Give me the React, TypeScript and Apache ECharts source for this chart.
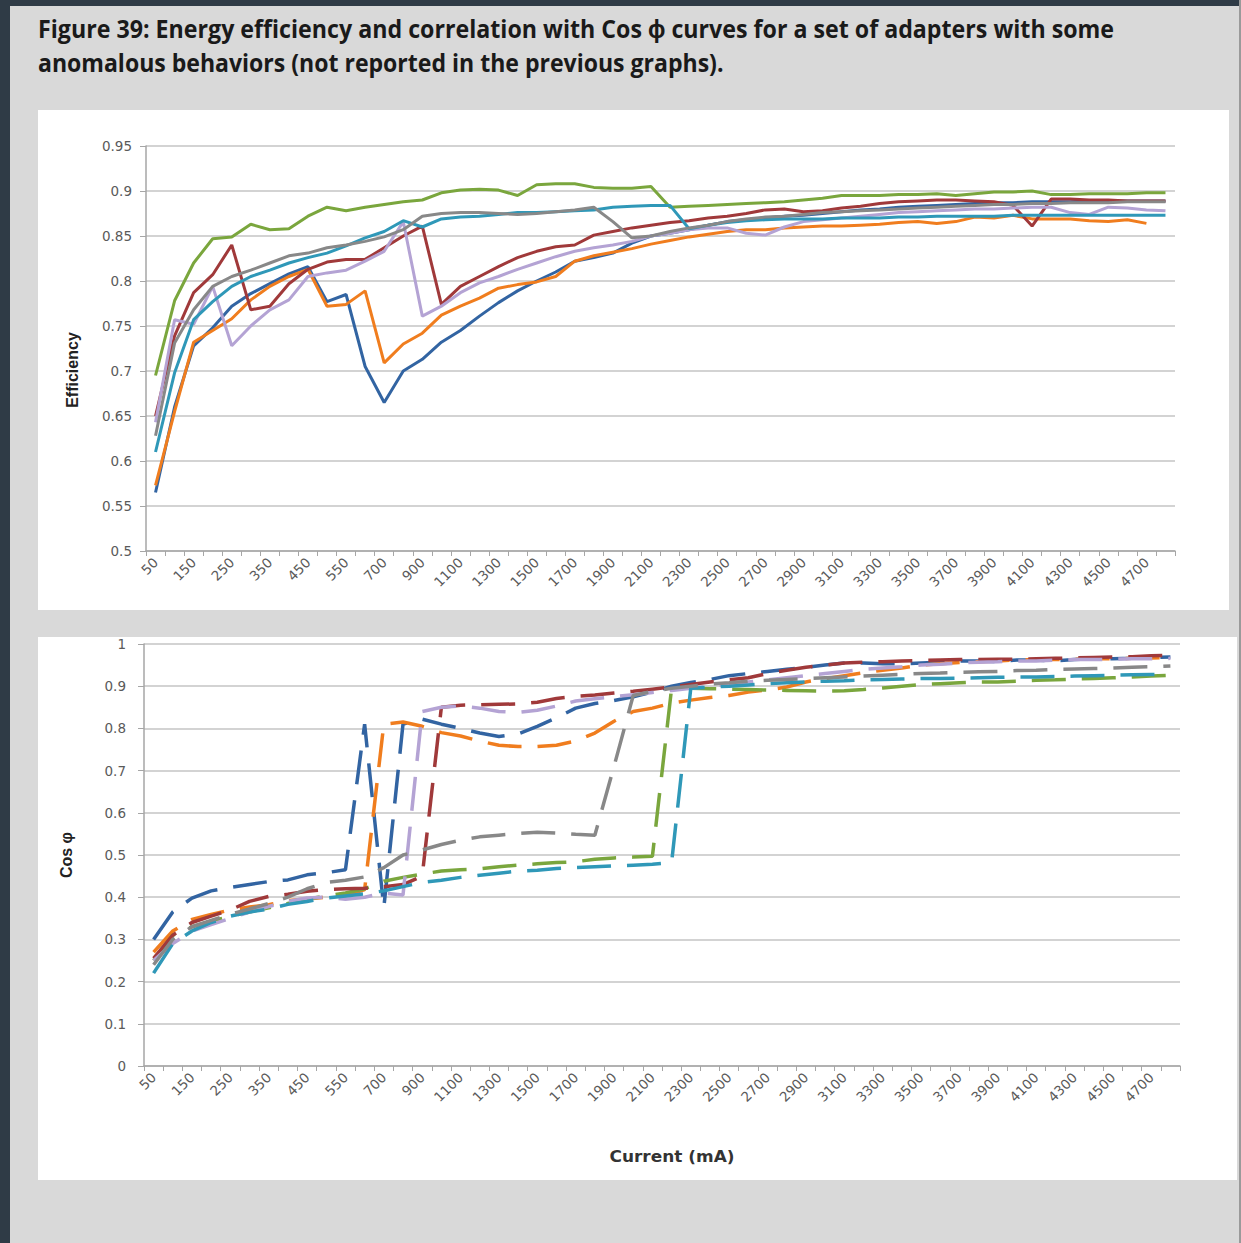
import React, { useEffect, useRef } from "react";
import * as echarts from "echarts";

const currents = [
  "50", "100", "150", "200", "250", "300", "350", "400", "450", "500", "550", "600",
  "700", "800", "900", "1000", "1100", "1200", "1300", "1400", "1500", "1600", "1700", "1800",
  "1900", "2000", "2100", "2200", "2300", "2400", "2500", "2600", "2700", "2800", "2900", "3000",
  "3100", "3200", "3300", "3400", "3500", "3600", "3700", "3800", "3900", "4000", "4100", "4200",
  "4300", "4400", "4500", "4600", "4700", "4800",
];

// Efficiency curves (top chart)
const effBlue = [
  0.565, 0.66, 0.728, 0.748, 0.772, 0.786, 0.797, 0.808, 0.816, 0.777, 0.785, 0.705,
  0.665, 0.7, 0.713, 0.732, 0.745, 0.761, 0.776, 0.789, 0.8, 0.81, 0.822, 0.826,
  0.831, 0.842, 0.85, 0.853, 0.857, 0.862, 0.866, 0.868, 0.87, 0.872, 0.873, 0.875,
  0.877, 0.879, 0.88, 0.882, 0.883, 0.884, 0.885, 0.886, 0.887, 0.887, 0.888, 0.888,
  0.888, 0.889, 0.889, 0.889, 0.889, 0.889,
];
const effOrange = [
  0.573, 0.655, 0.732, 0.745, 0.758, 0.779, 0.794, 0.805, 0.813, 0.772, 0.774, 0.789,
  0.709, 0.73, 0.742, 0.762, 0.772, 0.781, 0.792, 0.796, 0.799, 0.805, 0.822, 0.828,
  0.832, 0.836, 0.841, 0.845, 0.849, 0.852, 0.855, 0.857, 0.857, 0.859, 0.86, 0.861,
  0.861, 0.862, 0.863, 0.865, 0.866, 0.864, 0.866, 0.871, 0.87, 0.873, 0.869, 0.869,
  0.869, 0.867, 0.866, 0.868, 0.864, null,
];
const effGreen = [
  0.695, 0.778, 0.82, 0.847, 0.849, 0.863, 0.857, 0.858, 0.872, 0.882, 0.878, 0.882,
  0.885, 0.888, 0.89, 0.898, 0.901, 0.902, 0.901, 0.895, 0.907, 0.908, 0.908, 0.904,
  0.903, 0.903, 0.905, 0.882, 0.883, 0.884, 0.885, 0.886, 0.887, 0.888, 0.89, 0.892,
  0.895, 0.895, 0.895, 0.896, 0.896, 0.897, 0.895, 0.897, 0.899, 0.899, 0.9, 0.896,
  0.896, 0.897, 0.897, 0.897, 0.898, 0.898,
];
const effRed = [
  0.65, 0.739, 0.787, 0.807, 0.84, 0.768, 0.772, 0.797, 0.813, 0.821, 0.824, 0.824,
  0.837, 0.85, 0.861, 0.774, 0.794, 0.805, 0.816, 0.826, 0.833, 0.838, 0.84, 0.851,
  0.855, 0.859, 0.862, 0.865, 0.867, 0.87, 0.872, 0.875, 0.879, 0.88, 0.877, 0.878,
  0.881, 0.883, 0.886, 0.888, 0.889, 0.89, 0.89, 0.889, 0.888, 0.884, 0.861, 0.891,
  0.891, 0.89, 0.89, 0.889, 0.889, 0.889,
];
const effPurple = [
  0.643, 0.757, 0.752, 0.794, 0.728, 0.75, 0.768, 0.779, 0.805, 0.809, 0.812, 0.822,
  0.833, 0.866, 0.761, 0.772, 0.787, 0.798, 0.805, 0.813, 0.82, 0.827, 0.833, 0.837,
  0.84, 0.844, 0.85, 0.853, 0.857, 0.859, 0.859, 0.853, 0.851, 0.86, 0.866, 0.868,
  0.87, 0.872, 0.874, 0.876, 0.877, 0.878, 0.879, 0.88, 0.88, 0.881, 0.882, 0.882,
  0.876, 0.874, 0.882, 0.881, 0.879, 0.878,
];
const effTeal = [
  0.61, 0.698, 0.757, 0.777, 0.794, 0.805, 0.812, 0.82, 0.826, 0.831, 0.839, 0.848,
  0.855, 0.867, 0.86, 0.869, 0.871, 0.872, 0.874, 0.876, 0.876, 0.877, 0.878, 0.879,
  0.882, 0.883, 0.884, 0.884, 0.858, 0.862, 0.865, 0.867, 0.868, 0.869, 0.869, 0.869,
  0.87, 0.87, 0.87, 0.871, 0.871, 0.872, 0.872, 0.872, 0.872, 0.873, 0.873, 0.873,
  0.873, 0.873, 0.873, 0.873, 0.873, 0.873,
];
const effGrey = [
  0.628, 0.731, 0.768, 0.794, 0.805, 0.812, 0.82, 0.828, 0.831, 0.837, 0.84, 0.844,
  0.849, 0.857, 0.872, 0.875, 0.876, 0.876, 0.875, 0.874, 0.875, 0.877, 0.879, 0.882,
  0.866, 0.848, 0.85, 0.855, 0.859, 0.862, 0.866, 0.869, 0.871, 0.872, 0.874, 0.876,
  0.877, 0.878, 0.879, 0.88, 0.881, 0.882, 0.883, 0.884, 0.885, 0.885, 0.886, 0.886,
  0.887, 0.887, 0.887, 0.888, 0.888, 0.888,
];

// Cos phi curves (bottom chart)
const cosBlue = [
  0.3, 0.365, 0.398, 0.415, 0.423, 0.43, 0.437, 0.441, 0.453, 0.458, 0.465, 0.81,
  0.375, 0.81, 0.822, 0.81, 0.8, 0.789, 0.781, 0.787, 0.805, 0.825, 0.848, 0.859,
  0.866, 0.875, 0.886, 0.9, 0.909, 0.916, 0.925, 0.93, 0.935, 0.94, 0.945, 0.95,
  0.955, 0.955, 0.953, 0.953, 0.955, 0.957, 0.96, 0.96, 0.958, 0.962, 0.962, 0.96,
  0.963, 0.965, 0.965, 0.966, 0.968, 0.969,
];
const cosOrange = [
  0.27, 0.32, 0.347, 0.359, 0.37, 0.377, 0.382, 0.392, 0.396, 0.4, 0.403, 0.418,
  0.81, 0.815, 0.805, 0.79, 0.782, 0.77, 0.76, 0.757, 0.757, 0.76, 0.77, 0.789,
  0.817, 0.84, 0.848, 0.86, 0.867, 0.873, 0.878, 0.886, 0.891, 0.898, 0.91, 0.918,
  0.925, 0.932, 0.938, 0.943, 0.95, 0.953, 0.956, 0.958, 0.96, 0.962, 0.963, 0.963,
  0.964, 0.965, 0.965, 0.966, 0.967, 0.968,
];
const cosGreen = [
  0.25, 0.31, 0.33, 0.343, 0.355, 0.365, 0.375, 0.385, 0.395, 0.403, 0.41, 0.42,
  0.438, 0.447, 0.455, 0.462, 0.465, 0.467, 0.472, 0.476, 0.479, 0.482, 0.484, 0.49,
  0.493, 0.495, 0.497, 0.895, 0.895, 0.894, 0.893, 0.892, 0.891, 0.89, 0.889, 0.888,
  0.889, 0.892, 0.896, 0.9, 0.904, 0.906, 0.908, 0.91, 0.91, 0.912, 0.914, 0.915,
  0.917, 0.918, 0.92, 0.922, 0.924, 0.926,
];
const cosRed = [
  0.255, 0.31, 0.34, 0.355, 0.37, 0.39, 0.402, 0.407, 0.414, 0.418, 0.42, 0.421,
  0.425, 0.43, 0.45, 0.85, 0.855, 0.856, 0.857, 0.858, 0.862, 0.871, 0.876, 0.879,
  0.884, 0.888, 0.893, 0.898, 0.904, 0.91, 0.915, 0.92, 0.93, 0.938, 0.945, 0.95,
  0.955, 0.957, 0.958, 0.96, 0.961, 0.962, 0.963, 0.963, 0.964, 0.964, 0.965, 0.966,
  0.967, 0.968, 0.969, 0.97, 0.972, 0.973,
];
const cosPurple = [
  0.25, 0.29, 0.32, 0.335, 0.35, 0.365, 0.378, 0.39, 0.398, 0.4, 0.395, 0.4,
  0.41, 0.405, 0.84, 0.85, 0.853, 0.848, 0.84, 0.838, 0.843, 0.853, 0.865, 0.87,
  0.875, 0.88, 0.885, 0.89, 0.895, 0.9, 0.905, 0.91, 0.915, 0.92, 0.925, 0.93,
  0.935, 0.94, 0.943, 0.946, 0.95, 0.952, 0.955, 0.957, 0.958, 0.96, 0.96, 0.962,
  0.963, 0.963, 0.964, 0.965, 0.965, 0.966,
];
const cosTeal = [
  0.22, 0.29, 0.32, 0.34, 0.355, 0.365, 0.372, 0.383, 0.39, 0.398, 0.403, 0.408,
  0.415, 0.425, 0.435, 0.44, 0.447, 0.452, 0.457, 0.462, 0.464, 0.468, 0.47, 0.472,
  0.474, 0.476, 0.478, 0.482, 0.895, 0.898, 0.9, 0.903, 0.906, 0.908, 0.91, 0.912,
  0.913, 0.915, 0.916, 0.917, 0.918, 0.918, 0.919, 0.92, 0.921, 0.922, 0.922, 0.923,
  0.924, 0.925, 0.926, 0.927, 0.928, 0.928,
];
const cosGrey = [
  0.24, 0.3, 0.33, 0.345, 0.36, 0.372, 0.385, 0.4, 0.42, 0.435, 0.44, 0.448,
  0.47, 0.5, 0.512, 0.525, 0.535, 0.543, 0.547, 0.551, 0.554, 0.552, 0.549, 0.547,
  0.71, 0.878, 0.888, 0.895, 0.9, 0.905, 0.908, 0.912, 0.914, 0.916, 0.918, 0.92,
  0.922, 0.924, 0.926, 0.928, 0.93, 0.931, 0.933, 0.934, 0.935, 0.937, 0.938, 0.94,
  0.941, 0.942, 0.943, 0.945, 0.946, 0.948,
];

const effSeries = [effBlue, effOrange, effGreen, effRed, effPurple, effTeal, effGrey];
const cosSeries = [cosBlue, cosOrange, cosGreen, cosRed, cosPurple, cosTeal, cosGrey];
const seriesColors = ["#3264a2", "#f07d1e", "#7aa63d", "#a0393a", "#b4a3d4", "#2f98b8", "#888888"];

const titleLine1 =
  "Figure 39: Energy efficiency and correlation with Cos \u03d5 curves for a set of adapters with some";
const titleLine2 = "anomalous behaviors (not reported in the previous graphs).";

const tickFont = '"DejaVu Sans", sans-serif';

function fmt(v: number) {
  return String(Math.round(v * 100) / 100);
}

function xAxisFor(gridIndex: number) {
  return {
    type: "category",
    gridIndex,
    data: currents,
    boundaryGap: true,
    axisLine: { show: true, lineStyle: { color: "#a6a6a6", width: 1.5 } },
    axisTick: { show: true, interval: 0, length: 5, lineStyle: { color: "#a6a6a6", width: 1 } },
    axisLabel: {
      interval: 1,
      rotate: 45,
      margin: 9,
      fontFamily: tickFont,
      fontSize: 13.5,
      color: "#5a5a5a",
    },
    splitLine: { show: false },
  };
}

function yAxisFor(gridIndex: number, min: number, max: number, interval: number, margin: number) {
  return {
    type: "value",
    gridIndex,
    min,
    max,
    interval,
    axisLine: { show: true, lineStyle: { color: "#a6a6a6", width: 1.5 } },
    axisTick: { show: true, length: 6, lineStyle: { color: "#a6a6a6" } },
    axisLabel: {
      margin,
      fontFamily: tickFont,
      fontSize: 13.5,
      color: "#5a5a5a",
      formatter: fmt,
    },
    splitLine: { show: true, lineStyle: { color: "#c4c4c4", width: 1.5 } },
  };
}

export default function App() {
  const ref = useRef<HTMLDivElement>(null);

  useEffect(() => {
    if (!ref.current) return;
    const chart = echarts.init(ref.current, null, { renderer: "svg" });

    const series: any[] = [];
    effSeries.forEach((d, k) => {
      series.push({
        type: "line",
        xAxisIndex: 0,
        yAxisIndex: 0,
        data: d,
        symbol: "none",
        connectNulls: false,
        lineStyle: { color: seriesColors[k], width: 3 },
        itemStyle: { color: seriesColors[k] },
        z: 3,
      });
    });
    cosSeries.forEach((d, k) => {
      series.push({
        type: "line",
        xAxisIndex: 1,
        yAxisIndex: 1,
        data: d,
        symbol: "none",
        lineStyle: { color: seriesColors[k], width: 3.5, type: [34, 16], cap: "butt" },
        itemStyle: { color: seriesColors[k] },
        z: 3,
      });
    });

    const option: any = {
      animation: false,
      backgroundColor: "#d9d9d9",
      grid: [
        { left: 146, top: 146, width: 1029, height: 405 },
        { left: 144, top: 644, width: 1036, height: 422 },
      ],
      xAxis: [xAxisFor(0), xAxisFor(1)],
      yAxis: [yAxisFor(0, 0.5, 0.95, 0.05, 14), yAxisFor(1, 0, 1, 0.1, 18)],
      series,
      graphic: [
        { type: "rect", z: -100, shape: { x: 0, y: 0, width: 1241, height: 6 }, style: { fill: "#2f3b46" } },
        { type: "rect", z: -100, shape: { x: 0, y: 0, width: 10, height: 1243 }, style: { fill: "#2f3b46" } },
        { type: "rect", z: -100, shape: { x: 1239, y: 0, width: 2, height: 1243 }, style: { fill: "#9a9a9a" } },
        { type: "rect", z: -100, shape: { x: 38, y: 110, width: 1191, height: 500 }, style: { fill: "#ffffff" } },
        { type: "rect", z: -100, shape: { x: 38, y: 637, width: 1199, height: 543 }, style: { fill: "#ffffff" } },
        {
          type: "text",
          z: 10,
          x: 38,
          y: 28,
          scaleX: 0.928,
          style: {
            text: titleLine1,
            font: 'bold 25px "Open Sans", sans-serif',
            fill: "#1a1a1a",
            textVerticalAlign: "middle",
          },
        },
        {
          type: "text",
          z: 10,
          x: 38,
          y: 62,
          scaleX: 0.922,
          style: {
            text: titleLine2,
            font: 'bold 25px "Open Sans", sans-serif',
            fill: "#1a1a1a",
            textVerticalAlign: "middle",
          },
        },
        {
          type: "text",
          z: 10,
          x: 72,
          y: 370,
          rotation: Math.PI / 2,
          style: {
            text: "Efficiency",
            font: 'bold 16px "Liberation Sans", sans-serif',
            fill: "#222222",
            textAlign: "center",
            textVerticalAlign: "middle",
          },
        },
        {
          type: "text",
          z: 10,
          x: 66,
          y: 855,
          rotation: Math.PI / 2,
          style: {
            text: "Cos \u03c6",
            font: 'bold 16px "Liberation Sans", sans-serif',
            fill: "#222222",
            textAlign: "center",
            textVerticalAlign: "middle",
          },
        },
        {
          type: "text",
          z: 10,
          x: 672,
          y: 1157,
          scaleX: 1.13,
          style: {
            text: "Current (mA)",
            font: 'bold 15px "DejaVu Sans", sans-serif',
            fill: "#333333",
            textAlign: "center",
            textVerticalAlign: "middle",
          },
        },
      ],
    };

    chart.setOption(option);
    return () => chart.dispose();
  }, []);

  return (
    <div
      ref={ref}
      style={{ position: "absolute", left: 0, top: 0, width: 1241, height: 1243 }}
    />
  );
}
